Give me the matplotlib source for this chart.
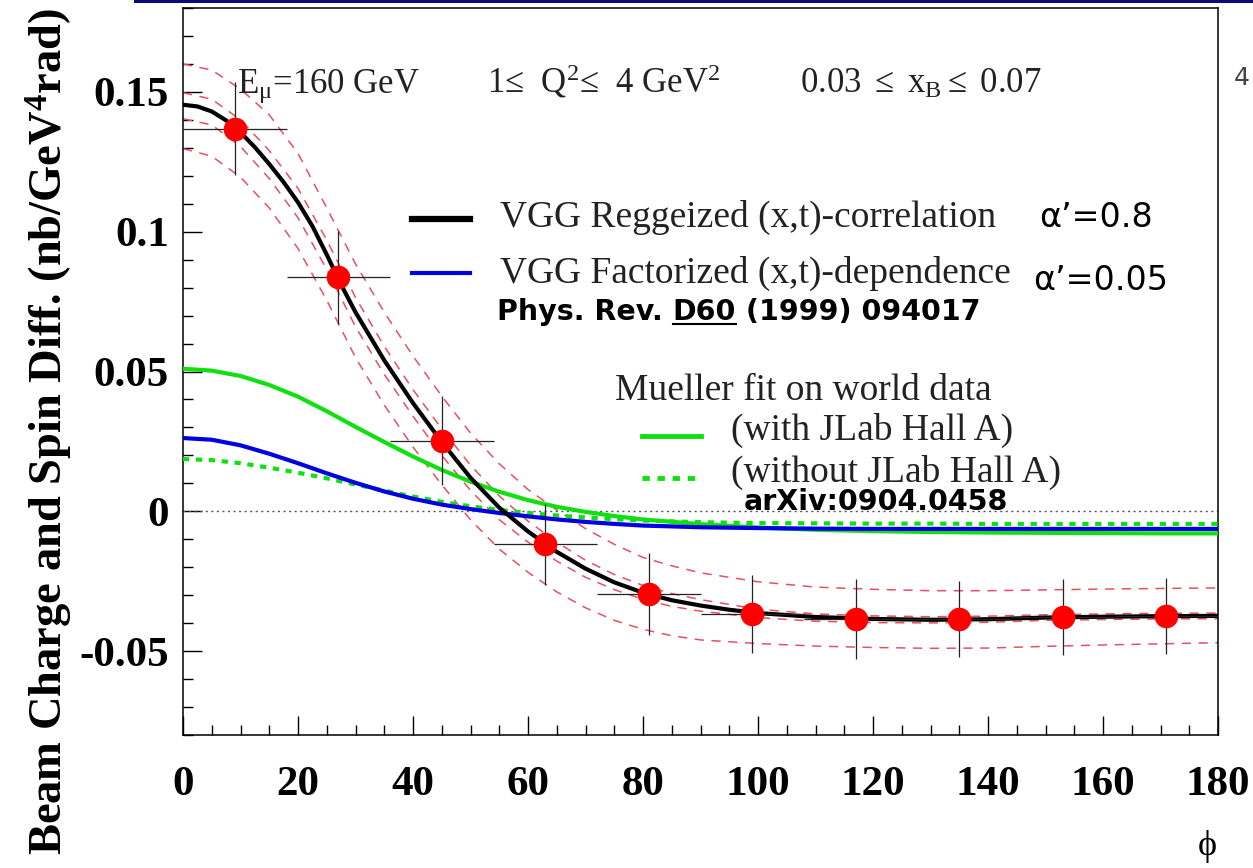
import numpy as np
import matplotlib
matplotlib.use('Agg')
import matplotlib.pyplot as plt
from matplotlib.ticker import MultipleLocator, FixedLocator, FuncFormatter
from matplotlib.lines import Line2D
from matplotlib.patches import Rectangle

plt.rcParams['mathtext.fontset'] = 'custom'
plt.rcParams['mathtext.rm'] = 'Liberation Serif'
plt.rcParams['mathtext.it'] = 'Liberation Serif:italic'
plt.rcParams['mathtext.bf'] = 'Liberation Serif:bold'
plt.rcParams['axes.unicode_minus'] = False

# COMPASS points (phi in deg)
phi_pts = [9, 27, 45, 63, 81, 99, 117, 135, 153, 171]
val_pts = [0.1368, 0.0837, 0.0253, -0.0118, -0.0296, -0.0367, -0.0385, -0.0385, -0.0378, -0.0374]
err_pts = [0.0167, 0.0167, 0.0160, 0.0145, 0.0146, 0.0141, 0.0142, 0.0136, 0.0137, 0.0137]
xerr_pts = 9

# VGG Reggeized curve
phi_vgg = [0, 2.5, 5, 7.5, 10, 12.5, 15, 17.5, 20, 22.5, 25, 27.5, 30, 35, 40, 45, 50, 55, 60,
           65, 70, 75, 80, 85, 90, 95, 100, 110, 120, 130, 140, 150, 160, 170, 180]
vgg_regge = [0.1454, 0.1448, 0.1430, 0.1398, 0.1355, 0.1302, 0.1242, 0.1177, 0.1105, 0.1020,
             0.0918, 0.0810, 0.0712, 0.0540, 0.0387, 0.0248, 0.0120, 0.0013, -0.0072,
             -0.0145, -0.0205, -0.0254, -0.0291, -0.0318, -0.0337, -0.0352, -0.0364,
             -0.0378, -0.0385, -0.0388, -0.0386, -0.0380, -0.0377, -0.0375, -0.0374]

# projected uncertainty bands (red dashed)
phi_band = [0, 5, 10, 15, 20, 25, 30, 35, 40, 45, 50, 55, 60, 65, 70, 75, 80, 85, 90,
            100, 110, 120, 130, 140, 150, 160, 170, 180]
band_out_hi = [0.1600, 0.1578, 0.1510, 0.1418, 0.1280, 0.1085, 0.0885, 0.0712, 0.0555, 0.0412,
               0.0280, 0.0170, 0.0078, 0.0005, -0.0062, -0.0118, -0.0165, -0.0195, -0.0220,
               -0.0252, -0.0271, -0.0279, -0.0284, -0.0284, -0.0281, -0.0278, -0.0276, -0.0274]
band_out_lo = [0.1297, 0.1270, 0.1195, 0.1085, 0.0940, 0.0755, 0.0550, 0.0380, 0.0230, 0.0095,
               -0.0030, -0.0135, -0.0218, -0.0288, -0.0345, -0.0390, -0.0422, -0.0445, -0.0460,
               -0.0473, -0.0482, -0.0487, -0.0490, -0.0489, -0.0483, -0.0478, -0.0474, -0.0470]
band_in_hi = [0.1497, 0.1474, 0.1400, 0.1290, 0.1155, 0.0970, 0.0765, 0.0590, 0.0435, 0.0295,
              0.0165, 0.0055, -0.0035, -0.0110, -0.0175, -0.0226, -0.0265, -0.0294, -0.0316,
              -0.0350, -0.0367, -0.0374, -0.0377, -0.0375, -0.0370, -0.0367, -0.0365, -0.0364]
band_in_lo = [0.1404, 0.1382, 0.1305, 0.1190, 0.1050, 0.0865, 0.0660, 0.0490, 0.0340, 0.0200,
              0.0075, -0.0030, -0.0110, -0.0178, -0.0236, -0.0280, -0.0315, -0.0340, -0.0357,
              -0.0380, -0.0393, -0.0398, -0.0399, -0.0397, -0.0390, -0.0387, -0.0385, -0.0384]

# other models
phi_mod = [0, 5, 10, 15, 20, 25, 30, 35, 40, 45, 50, 55, 60, 65, 70, 75, 80,
           90, 100, 110, 120, 130, 140, 150, 160, 170, 180]
vgg_fact = [0.0262, 0.0256, 0.0236, 0.0206, 0.0172, 0.0136, 0.0102, 0.0071, 0.0045, 0.0024,
            0.0008, -0.0006, -0.0018, -0.0029, -0.0038, -0.0045, -0.0051,
            -0.0057, -0.0060, -0.0062, -0.0063, -0.0063, -0.0063, -0.0063, -0.0063, -0.0063, -0.0063]
mueller_with = [0.0510, 0.0503, 0.0484, 0.0452, 0.0410, 0.0358, 0.0302, 0.0248, 0.0196, 0.0148,
                0.0106, 0.0070, 0.0040, 0.0016, -0.0002, -0.0017, -0.0029,
                -0.0046, -0.0058, -0.0066, -0.0071, -0.0074, -0.0076, -0.0077, -0.0078, -0.0079, -0.0079]
mueller_without = [0.0187, 0.0183, 0.0172, 0.0156, 0.0138, 0.0118, 0.0096, 0.0074, 0.0053, 0.0034,
                   0.0018, 0.0005, -0.0006, -0.0015, -0.0022, -0.0028, -0.0033,
                   -0.0039, -0.0042, -0.0043, -0.0044, -0.0044, -0.0045, -0.0045, -0.0045, -0.0045, -0.0045]

W, H = 1253, 868
fig = plt.figure(figsize=(W / 100, H / 100), dpi=100)

def fx(x):
    return x / W

def fy(y):
    return 1 - y / H

ax = fig.add_axes([fx(183), fy(735), (1218 - 183) / W, (735 - 8) / H])

red_band = '#e8505f'
green = '#10e010'
blue = '#0000e0'

for b in [band_out_hi, band_out_lo, band_in_hi, band_in_lo]:
    ax.plot(phi_band, b, color=red_band, lw=1.1, linestyle=(0, (6, 5)), zorder=2)

ax.axhline(0, color='#555555', lw=1.0, linestyle=(0, (1.5, 2.5)), zorder=2)

ax.plot(phi_mod, mueller_with, color=green, lw=3.0, zorder=3, solid_joinstyle='round')
ax.plot(phi_mod, mueller_without, color=green, lw=3.0, linestyle=(0, (1.5, 1.6)), zorder=3)
ax.plot(phi_mod, vgg_fact, color=blue, lw=3.0, zorder=3, solid_joinstyle='round')
ax.plot(phi_vgg, vgg_regge, color='black', lw=3.0, zorder=4, solid_joinstyle='round')

ax.errorbar(phi_pts, val_pts, yerr=err_pts, xerr=xerr_pts, fmt='none',
            ecolor='#222222', elinewidth=0.9, capsize=0, zorder=5)
ax.plot(phi_pts, val_pts, 'o', color='#ff0000', markersize=17, markeredgewidth=0, zorder=6)

ax.set_xlim(0, 180)
ax.set_ylim(-0.08, 0.18)
ax.xaxis.set_major_locator(MultipleLocator(20))
ax.xaxis.set_minor_locator(MultipleLocator(5))
ax.yaxis.set_major_locator(FixedLocator([-0.05, 0, 0.05, 0.1, 0.15]))
ax.yaxis.set_minor_locator(MultipleLocator(0.01))
ax.yaxis.set_major_formatter(FuncFormatter(lambda v, p: '%g' % round(v, 3)))
ax.tick_params(which='major', direction='in', length=14, width=1.0, top=False, right=False)
ax.tick_params(which='minor', direction='in', length=7, width=1.0, top=False, right=False)
ax.tick_params(axis='x', which='major', pad=22)
ax.tick_params(axis='y', which='major', pad=10)
for lab in ax.get_xticklabels() + ax.get_yticklabels():
    lab.set_fontfamily('Liberation Serif')
    lab.set_fontweight('bold')
    lab.set_fontsize(31)
for s in ax.spines.values():
    s.set_linewidth(1.1)

serif = ['Liberation Serif', 'DejaVu Serif']
sans = ['DejaVu Sans']
txt = '#222222'

fig.text(fx(50), fy(431), r'Beam Charge and Spin Diff. (nb/GeV$^{\mathbf{4}}$rad)',
         rotation=90, ha='center', va='center', fontsize=33.5, fontweight='bold', family=serif)
fig.text(fx(1207), fy(855), 'ϕ', ha='center', va='baseline', fontsize=26, family=serif)

# header
fig.text(fx(237), fy(93), r'E$_{\mathrm{μ}}$=160 GeV', fontsize=25, family=serif, va='baseline', color=txt)
fig.text(fx(487), fy(93), r'1≤  Q$^{2}$≤  4 GeV$^{2}$', fontsize=25, family=serif, va='baseline', color=txt)
fig.text(fx(800), fy(93), r'0.03 $\leq$ x$_{\mathrm{B}}$$\leq$ 0.07', fontsize=25, family=serif,
         va='baseline', color=txt)

# legend
fig.add_artist(Line2D([fx(412), fx(470)], [fy(219), fy(219)], color='black', lw=4.5))
fig.text(fx(500), fy(227), 'VGG Reggeized (x,t)-correlation', fontsize=27, family=serif, va='baseline', color=txt)
fig.text(fx(1039), fy(227), "α’=0.8", fontsize=24, family=sans, va='baseline')
fig.add_artist(Line2D([fx(412), fx(470)], [fy(273), fy(273)], color=blue, lw=3.0))
fig.text(fx(500), fy(283), 'VGG Factorized (x,t)-dependence', fontsize=27, family=serif, va='baseline', color=txt)
fig.text(fx(1033), fy(290), "α’=0.05", fontsize=24, family=sans, va='baseline')

t1 = fig.text(fx(497), fy(320), 'Phys. Rev. ', fontsize=20.5, fontweight='bold', family=sans, va='baseline')
t2 = fig.text(0, 0, 'D60', fontsize=20.5, fontweight='bold', family=sans, va='baseline')
t3 = fig.text(0, 0, ' (1999) 094017', fontsize=20.5, fontweight='bold', family=sans, va='baseline')

fig.text(fx(615), fy(400), 'Mueller fit on world data', fontsize=27, family=serif, va='baseline', color=txt)
fig.add_artist(Line2D([fx(642), fx(701)], [fy(436), fy(436)], color=green, lw=3.5))
fig.text(fx(731), fy(440), '(with JLab Hall A)', fontsize=27, family=serif, va='baseline', color=txt)
fig.add_artist(Line2D([fx(642), fx(701)], [fy(478), fy(478)], color=green, lw=3.5,
                      linestyle=(0, (1.5, 1.6))))
fig.text(fx(731), fy(482), '(without JLab Hall A)', fontsize=27, family=serif, va='baseline', color=txt)
fig.text(fx(744), fy(510), 'arXiv:0904.0458', fontsize=20.5, fontweight='bold', family=sans, va='baseline')

# slide decorations
fig.add_artist(Rectangle((fx(134), fy(3)), 1 - fx(134), 3 / H, color='#0a0a78', lw=0))
fig.text(fx(1234), fy(85), '4', fontsize=18, family=sans, color='#444444', va='baseline')

# place the underlined reference piece by piece
fig.canvas.draw()
r = fig.canvas.get_renderer()
inv = fig.transFigure.inverted()
b1 = t1.get_window_extent(r)
x1 = inv.transform((b1.x1, 0))[0]
t2.set_position((x1, fy(320)))
fig.canvas.draw()
b2 = t2.get_window_extent(r)
x2 = inv.transform((b2.x1, 0))[0]
t3.set_position((x2, fy(320)))
ux0 = inv.transform((b2.x0, 0))[0]
fig.add_artist(Line2D([ux0, x2], [fy(324), fy(324)], color='black', lw=1.5))

fig.savefig('out.png', dpi=100)
